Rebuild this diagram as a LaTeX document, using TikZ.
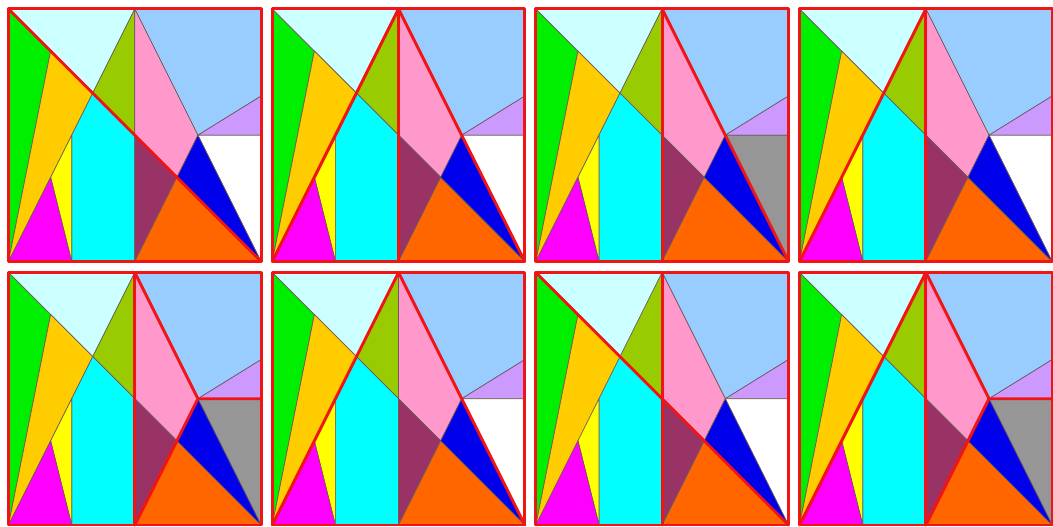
\documentclass[tikz,border=0pt]{standalone}
\definecolor{cGreen}{RGB}{0,238,0}
\definecolor{cLightCyan}{RGB}{204,255,255}
\definecolor{cOlive}{RGB}{153,204,0}
\definecolor{cGold}{RGB}{255,204,0}
\definecolor{cCyan}{RGB}{0,255,255}
\definecolor{cYellow}{RGB}{255,255,0}
\definecolor{cMagenta}{RGB}{255,0,255}
\definecolor{cLightBlue}{RGB}{153,204,255}
\definecolor{cPink}{RGB}{255,153,204}
\definecolor{cLavender}{RGB}{204,153,255}
\definecolor{cGray}{RGB}{150,150,150}
\definecolor{cBlue}{RGB}{0,0,235}
\definecolor{cMaroon}{RGB}{153,51,102}
\definecolor{cOrange}{RGB}{255,102,0}
\definecolor{cEdge}{RGB}{110,90,90}
\definecolor{cRed}{RGB}{240,20,20}
\tikzset{
  piece/.style={draw=cEdge, line width=0.5pt, line join=round},
  redline/.style={draw=cRed, line width=2.2pt, line cap=round, line join=round}
}
\newcommand\tilepanel[4]{%
\begin{scope}[shift={(#1,#2)}, x=189.4pt, y=189.4pt]
  \coordinate (TL) at (0,1);
  \coordinate (TR) at (1,1);
  \coordinate (BL) at (0,0);
  \coordinate (BR) at (1,0);
  \coordinate (M) at (0.5,1);
  \coordinate (C) at (0.5,0.5);
  \coordinate (B0) at (0.5,0);
  \coordinate (P) at (0.75,0.5);
  \coordinate (Q) at (2/3,1/3);
  \coordinate (R) at (1/3,2/3);
  \coordinate (G) at (1/6,5/6);
  \coordinate (S) at (1/6,1/3);
  \coordinate (H) at (0.25,0.5);
  \coordinate (H0) at (0.25,0);
  \coordinate (E) at (1,0.5);
  \coordinate (L) at (1,0.655);
  \filldraw[piece, fill=cGreen] (TL) -- (G) -- (BL) -- cycle;
  \filldraw[piece, fill=cLightCyan] (TL) -- (M) -- (R) -- cycle;
  \filldraw[piece, fill=cOlive] (M) -- (C) -- (R) -- cycle;
  \filldraw[piece, fill=cGold] (G) -- (R) -- (BL) -- cycle;
  \filldraw[piece, fill=cCyan] (H) -- (H0) -- (B0) -- (C) -- (R) -- cycle;
  \filldraw[piece, fill=cYellow] (S) -- (H) -- (H0) -- cycle;
  \filldraw[piece, fill=cMagenta] (BL) -- (S) -- (H0) -- cycle;
  \filldraw[piece, fill=cLightBlue] (M) -- (TR) -- (L) -- (P) -- cycle;
  \filldraw[piece, fill=cLavender] (P) -- (L) -- (E) -- cycle;
  \filldraw[piece, fill=#3] (P) -- (E) -- (BR) -- cycle;
  \filldraw[piece, fill=cPink] (M) -- (C) -- (Q) -- (P) -- cycle;
  \filldraw[piece, fill=cMaroon] (C) -- (B0) -- (Q) -- cycle;
  \filldraw[piece, fill=cOrange] (B0) -- (BR) -- (Q) -- cycle;
  \filldraw[piece, fill=cBlue] (P) -- (Q) -- (BR) -- cycle;
  #4
  \draw[redline] (BL) rectangle (TR);
\end{scope}}
\begin{document}
\begin{tikzpicture}
\useasboundingbox (0,0) rectangle (789.75pt,394.5pt);
% row 1
\tilepanel{6.4pt}{198.4pt}{white}{\draw[redline] (TL) -- (BR);}
\tilepanel{204.2pt}{198.4pt}{white}{\draw[redline] (M) -- (B0); \draw[redline] (BL) -- (M) -- (BR);}
\tilepanel{401.9pt}{198.4pt}{cGray}{\draw[redline] (M) -- (B0); \draw[redline] (M) -- (BR);}
\tilepanel{599.7pt}{198.4pt}{white}{\draw[redline] (M) -- (B0); \draw[redline] (BL) -- (M);}
% row 2
\tilepanel{6.4pt}{0.75pt}{cGray}{\draw[redline] (M) -- (B0); \draw[redline] (M) -- (P) -- (E); \draw[redline] (B0) -- (P);}
\tilepanel{204.2pt}{0.75pt}{white}{\draw[redline] (BL) -- (M) -- (BR);}
\tilepanel{401.9pt}{0.75pt}{white}{\draw[redline] (TL) -- (BR); \draw[redline] (M) -- (B0);}
\tilepanel{599.7pt}{0.75pt}{cGray}{\draw[redline] (M) -- (B0); \draw[redline] (BL) -- (M); \draw[redline] (M) -- (P) -- (E); \draw[redline] (B0) -- (P);}
\end{tikzpicture}
\end{document}
